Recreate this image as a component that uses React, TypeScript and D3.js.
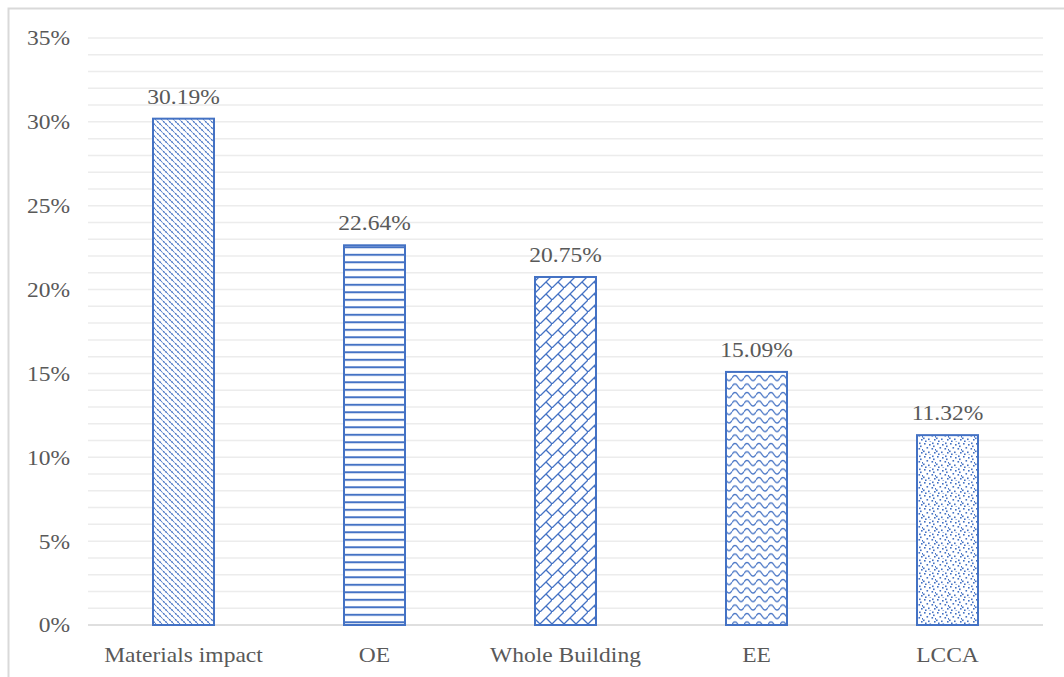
import React from "react";
import * as d3 from "d3";

const categories = ["Materials impact", "OE", "Whole Building", "EE", "LCCA"];
const values = [30.19, 22.64, 20.75, 15.09, 11.32];
const majorTicks = [0, 5, 10, 15, 20, 25, 30, 35];
const minorTicks = d3.range(0, 36, 1);
const patternIds = ["pDiag", "pHoriz", "pBrick", "pWave", "pDots"];

const W = 1064;
const H = 677;
const BLUE = "#4472C4";
const TEXT = "#595959";
const FONT = "'Liberation Serif', 'Times New Roman', serif";
const SX = 1.12;

function T(props: { x: number; y: number; anchor: string; dy?: string; children: React.ReactNode }) {
  return (
    <text
      transform={`translate(${props.x},${props.y}) scale(${SX},1)`}
      dy={props.dy}
      textAnchor={props.anchor}
      fontFamily={FONT}
      fontSize={21}
      fill={TEXT}
    >
      {props.children}
    </text>
  );
}

export default function App() {
  const x = d3.scaleBand<string>().domain(categories).range([88, 1043]).paddingInner(0).paddingOuter(0);
  const y = d3.scaleLinear().domain([0, 35]).range([625, 38]);
  const barW = 61;

  const dots: [number, number][] = [
    [1, 1], [6, 2], [3.5, 5], [8.5, 6], [0, 8.5], [5, 9.5], [10, 3.5], [11, 10], [2, 11.5], [9, 0.5], [6.5, 12.5], [12, 7],
  ];

  return (
    <div style={{ position: "absolute", left: 0, top: 0 }}>
      <svg width={W} height={H} style={{ display: "block", background: "#fff" }}>
        <defs>
          <pattern id="pDiag" patternUnits="userSpaceOnUse" width={6} height={6}>
            <rect width={6} height={6} fill="#fff" />
            <path d="M-1,-1 L7,7 M-4,2 L2,8 M4,-2 L8,2" stroke={BLUE} strokeWidth={1.4} strokeDasharray="2.2 0.8" />
          </pattern>
          <pattern id="pHoriz" patternUnits="userSpaceOnUse" width={10} height={7.5} y={y(22.64) + 1}>
            <rect width={10} height={7.5} fill="#fff" />
            <line x1={0} x2={10} y1={1} y2={1} stroke={BLUE} strokeWidth={2} />
          </pattern>
          <pattern id="pBrick" patternUnits="userSpaceOnUse" width={12} height={12}>
            <rect width={12} height={12} fill="#fff" />
            <path d="M-1,13 L13,-1 M6,6 L12,12" stroke={BLUE} strokeWidth={1.3} />
          </pattern>
          <pattern id="pWave" patternUnits="userSpaceOnUse" width={12} height={8.5}>
            <rect width={12} height={8.5} fill="#fff" />
            <path d="M0,4 C2,0.5 4,0.5 6,4 S10,7.5 12,4" fill="none" stroke={BLUE} strokeWidth={1.3} />
          </pattern>
          <pattern id="pDots" patternUnits="userSpaceOnUse" width={13} height={13}>
            <rect width={13} height={13} fill="#fff" />
            {dots.map(([dx, dy], i) => (
              <rect key={i} x={dx} y={dy} width={1.6} height={1.6} fill={BLUE} />
            ))}
          </pattern>
        </defs>

        {/* outer border */}
        <rect x={8.5} y={8.5} width={W + 20} height={H + 20} fill="none" stroke="#d9d9d9" strokeWidth={2} />

        {/* gridlines */}
        {minorTicks.map((t) => (
          <line
            key={t}
            x1={88}
            x2={1043}
            y1={y(t)}
            y2={y(t)}
            stroke={t === 0 ? "#d4d4d4" : "#ececec"}
            strokeWidth={1.5}
          />
        ))}

        {/* y tick labels */}
        {majorTicks.map((t) => (
          <T key={t} x={70} y={y(t)} dy="0.35em" anchor="end">
            {t}%
          </T>
        ))}

        {/* bars */}
        {categories.map((c, i) => {
          const cx = (x(c) as number) + x.bandwidth() / 2;
          return (
            <g key={c}>
              <rect
                x={cx - barW / 2}
                y={y(values[i])}
                width={barW}
                height={y(0) - y(values[i])}
                fill={`url(#${patternIds[i]})`}
                stroke={BLUE}
                strokeWidth={2}
              />
              <T x={cx} y={y(values[i]) - 15} anchor="middle">
                {values[i].toFixed(2)}%
              </T>
              <T x={cx} y={662} anchor="middle">
                {c}
              </T>
            </g>
          );
        })}
      </svg>
    </div>
  );
}
